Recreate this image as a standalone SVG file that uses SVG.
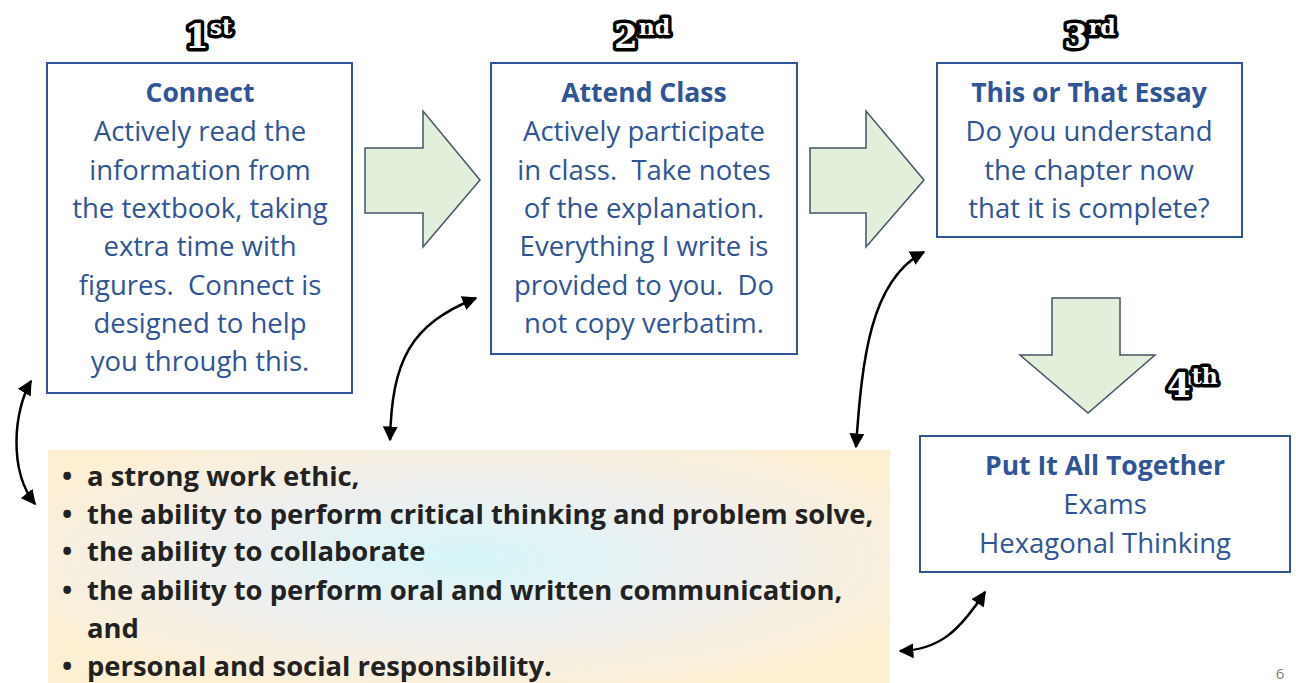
<svg xmlns="http://www.w3.org/2000/svg" width="1296" height="683" viewBox="0 0 1296 683">
<style>
.box{fill:#fff;stroke:#2F5597;stroke-width:2}
.t{font-family:"Open Sans","Noto Sans",sans-serif;font-size:27.5px;fill:#2F5597;text-anchor:middle;white-space:pre}
.b{font-weight:bold;font-size:26.5px}
.blk{fill:#E2EFDA;stroke:#44546A;stroke-width:1.5}
.ord{font-family:"DejaVu Serif",serif;font-weight:bold;fill:#fff;stroke:#000;stroke-width:7;paint-order:stroke;stroke-linejoin:round}
.bul{font-family:"Open Sans","Noto Sans",sans-serif;font-size:27.4px;font-weight:bold;fill:#222}
.con{fill:none;stroke:#000;stroke-width:2.5;marker-start:url(#ah);marker-end:url(#ah)}
</style>
<defs>
<marker id="ah" viewBox="0 0 10 10" refX="9" refY="5" markerWidth="6" markerHeight="6" orient="auto-start-reverse" markerUnits="strokeWidth"><path d="M0,0 L10,5 L0,10 z" fill="#000"/></marker>
<radialGradient id="g" cx="0.5" cy="0.45" r="0.6">
<stop offset="0" stop-color="#D6F7FA"/>
<stop offset="0.5" stop-color="#EFEFEF"/>
<stop offset="1" stop-color="#FDEFD2"/>
</radialGradient>
</defs>
<g id="ordinals">
<text class="ord" x="185" y="48" font-size="34">1<tspan font-size="22" dy="-13" dx="1">st</tspan></text>
<text class="ord" x="614" y="48" font-size="34">2<tspan font-size="22" dy="-13" dx="1">nd</tspan></text>
<text class="ord" x="1064" y="48" font-size="34">3<tspan font-size="22" dy="-13" dx="1">rd</tspan></text>
<text class="ord" x="1167" y="397" font-size="34">4<tspan font-size="22" dy="-13" dx="1">th</tspan></text>
</g>
<g id="block-arrows">
<path class="blk" d="M365,148 L423,148 L423,111 L480,180 L423,247 L423,213 L365,213 Z"/>
<path class="blk" d="M810,148 L866,148 L866,111 L924,180 L866,247 L866,213 L810,213 Z"/>
<path class="blk" d="M1052,298 L1120,298 L1120,355 L1155,355 L1088,413 L1020,355 L1052,355 Z"/>
</g>
<g id="node-connect">
<rect class="box" x="47" y="63" width="305" height="330"/>
<text class="t b" x="200" y="102">Connect</text>
<text class="t" x="200" y="141">Actively read the</text>
<text class="t" x="200" y="180">information from</text>
<text class="t" x="200" y="218">the textbook, taking</text>
<text class="t" x="200" y="256">extra time with</text>
<text class="t" x="200" y="295">figures.  Connect is</text>
<text class="t" x="200" y="333">designed to help</text>
<text class="t" x="200" y="371">you through this.</text>
</g>
<g id="node-attend">
<rect class="box" x="491" y="63" width="306" height="291"/>
<text class="t b" x="644" y="102">Attend Class</text>
<text class="t" x="644" y="141">Actively participate</text>
<text class="t" x="644" y="180">in class.  Take notes</text>
<text class="t" x="644" y="218">of the explanation.</text>
<text class="t" x="644" y="256">Everything I write is</text>
<text class="t" x="644" y="295">provided to you.  Do</text>
<text class="t" x="644" y="333">not copy verbatim.</text>
</g>
<g id="node-essay">
<rect class="box" x="937" y="63" width="305" height="174"/>
<text class="t b" x="1089" y="102">This or That Essay</text>
<text class="t" x="1089" y="141">Do you understand</text>
<text class="t" x="1089" y="180">the chapter now</text>
<text class="t" x="1089" y="218">that it is complete?</text>
</g>
<g id="node-together">
<rect class="box" x="920" y="436" width="370" height="136"/>
<text class="t b" x="1105" y="475">Put It All Together</text>
<text class="t" x="1105" y="514">Exams</text>
<text class="t" x="1105" y="553">Hexagonal Thinking</text>
</g>
<g id="node-skills">
<rect x="48" y="450" width="842" height="240" fill="url(#g)"/>
<g class="bul">
<text x="62" y="486">•</text><text x="87" y="486">a strong work ethic,</text>
<text x="62" y="524">•</text><text x="87" y="524">the ability to perform critical thinking and problem solve,</text>
<text x="62" y="561">•</text><text x="87" y="561">the ability to collaborate</text>
<text x="62" y="600">•</text><text x="87" y="600">the ability to perform oral and written communication,</text>
<text x="87" y="638">and</text>
<text x="62" y="676">•</text><text x="87" y="676">personal and social responsibility.</text>
</g>
</g>
<g id="connectors">
<path class="con" d="M31,381 C14,410 8,470 35,504"/>
<path class="con" d="M476,298 C410,325 392,360 390,440"/>
<path class="con" d="M924,252 C870,280 862,360 856,447"/>
<path class="con" d="M985,592 C960,630 940,650 900,651"/>
</g>
<text x="1280" y="679" font-family="'Open Sans',sans-serif" font-size="15" fill="#7F7F7F" text-anchor="middle">6</text>
</svg>
